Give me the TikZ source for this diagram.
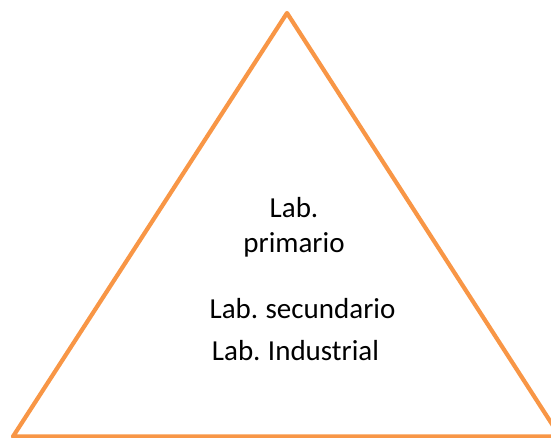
\documentclass[tikz,border=0pt]{standalone}
\usepackage{fontspec}
\setmainfont[WordSpace=0.8]{Carlito}
\definecolor{triorange}{RGB}{248,150,70}
\begin{document}
\begin{tikzpicture}[x=1pt,y=-1pt,
  edge/.style={draw=triorange,line width=4.2pt,line join=round},
  lbl/.style={font=\fontsize{29}{35}\selectfont,inner sep=0pt,anchor=base,text=black}]
\useasboundingbox (0,0) rectangle (551,438);
\coordinate (apex) at (287,13);
\coordinate (bl) at (13,436.5);
\coordinate (br) at (560,436.5);
\draw[edge] (apex) -- (bl) -- (br) -- cycle;
\node[lbl] (l1) at (294,218) {Lab.};
\node[lbl] (l2) at (294,253) {primario};
\node[lbl] (l3) at (302.5,318) {Lab. secundario};
\node[lbl] (l4) at (295.5,360) {Lab. Industrial};
\end{tikzpicture}
\end{document}
